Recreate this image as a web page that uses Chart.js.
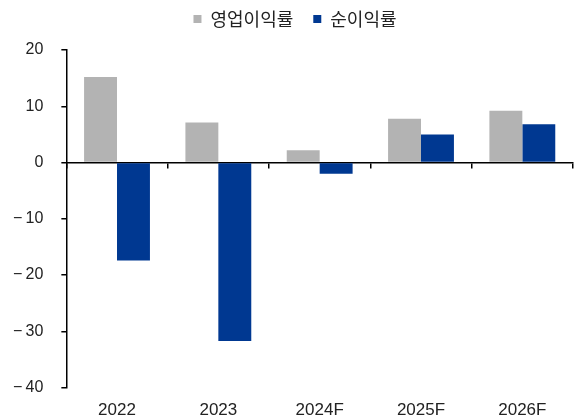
<!DOCTYPE html>
<html lang="ko">

<head>
    <meta charset="UTF-8">
    <title>이익률 추이</title>
    <script src="https://cdn.jsdelivr.net/npm/chart.js"></script>
    <style>
        html, body { margin: 0; padding: 0; background: #fff; }
        .chart-container { width: 581px; height: 420px; }
    </style>
</head>

<body>
    <div class="chart-container">
        <canvas id="marginChart" width="581" height="420"></canvas>
    </div>

    <script>
        // 데이터 (그림에서 읽은 값, %)
        const years = ['2022', '2023', '2024F', '2025F', '2026F'];
        const operatingMargin = [15.2, 7.1, 2.2, 7.8, 9.2];
        const netMargin = [-17.4, -31.7, -2.0, 5.0, 6.8];
        const yTicks = { min: -40, max: 20, step: 10 };

        const textFont = "'Liberation Sans', 'Noto Sans CJK KR', sans-serif";

        // 범례 아래 여백을 늘리고 범례를 약간 오른쪽으로
        const legendTweak = {
            id: 'legendTweak',
            beforeLayout(chart) {
                const lg = chart.legend;
                if (lg && !lg._tweaked) {
                    const origFit = lg.fit;
                    lg.fit = function () {
                        origFit.call(this);
                        this.height += 12;
                    };
                    lg._tweaked = true;
                }
            },
            afterLayout(chart) {
                const lg = chart.legend;
                if (lg) {
                    lg.left += 11;
                    lg.right += 11;
                }
            }
        };

        const ctx = document.getElementById('marginChart').getContext('2d');
        new Chart(ctx, {
            type: 'bar',
            data: {
                labels: years,
                datasets: [{
                    label: '영업이익률',
                    data: operatingMargin,
                    backgroundColor: '#b3b3b3',
                    categoryPercentage: 0.65,
                    barPercentage: 1.0
                }, {
                    label: '순이익률',
                    data: netMargin,
                    backgroundColor: '#003891',
                    categoryPercentage: 0.65,
                    barPercentage: 1.0
                }]
            },
            options: {
                responsive: false,
                animation: false,
                layout: {
                    padding: { left: -5, right: 8, top: -10, bottom: -6 }
                },
                plugins: {
                    legend: {
                        position: 'top',
                        labels: {
                            boxWidth: 8,
                            boxHeight: 8,
                            padding: 20,
                            color: '#222',
                            font: { family: "'Noto Sans CJK KR', sans-serif", size: 18 }
                        }
                    },
                    tooltip: { enabled: false }
                },
                scales: {
                    x: {
                        grid: { display: false },
                        border: { display: false },
                        ticks: {
                            color: '#222',
                            padding: 5,
                            font: { family: textFont, size: 17 }
                        }
                    },
                    // 0 위치의 가로축 (카테고리 경계 눈금)
                    x0: {
                        type: 'category',
                        labels: years,
                        position: { y: 0 },
                        offset: true,
                        grid: {
                            offset: true,
                            drawOnChartArea: false,
                            color: '#000',
                            lineWidth: 1.5,
                            tickLength: 5
                        },
                        border: { color: '#000', width: 1.5 },
                        ticks: { display: false }
                    },
                    y: {
                        min: yTicks.min,
                        max: yTicks.max,
                        grid: {
                            drawOnChartArea: false,
                            color: '#000',
                            lineWidth: 1.5,
                            tickLength: 5
                        },
                        border: { color: '#000', width: 1.5 },
                        ticks: {
                            stepSize: yTicks.step,
                            color: '#222',
                            padding: 18,
                            font: { family: textFont, size: 16 },
                            callback: v => v < 0 ? '\u2212\u2009' + Math.abs(v) : String(v)
                        }
                    }
                }
            },
            plugins: [legendTweak]
        });
    </script>
</body>

</html>
